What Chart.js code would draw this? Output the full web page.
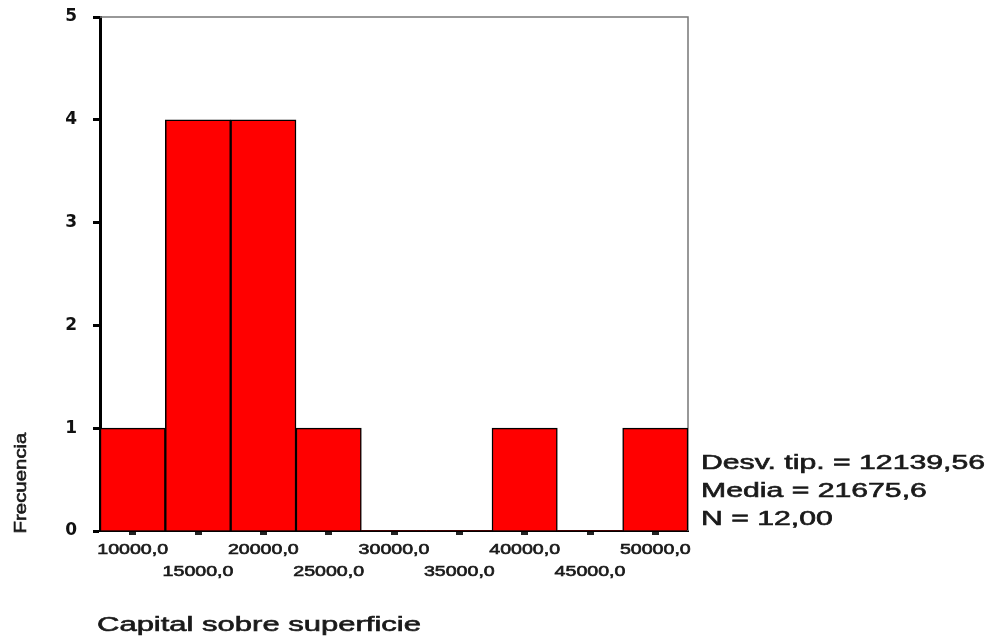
<!DOCTYPE html>
<html>
<head>
<meta charset="utf-8">
<script src="https://cdn.jsdelivr.net/npm/chart.js@4"></script>
<style>
  body { margin: 0; background: #fff; }
  #wrap { width: 991px; height: 639px; }
</style>
</head>
<body>
<div id="wrap"><canvas id="histo" width="991" height="639"></canvas></div>
<script>
// bins of the histogram (centres) and their counts
const binLabels = ['10000,0', '15000,0', '20000,0', '25000,0', '30000,0', '35000,0', '40000,0', '45000,0', '50000,0'];
const counts = [1, 4, 4, 1, 0, 0, 1, 0, 1];
const yTicks = [0, 1, 2, 3, 4, 5];
const statLines = ['Desv. tip. = 12139,56', 'Media = 21675,6', 'N = 12,00'];
const xTitle = 'Capital sobre superficie';
const yTitle = 'Frecuencia';

// SPSS output looks horizontally stretched, so text gets drawn with a scale
// a thin stroke gives the slightly heavy look of the original
function stretchText(ctx, text, x, y, font, sx, align) {
  ctx.save();
  ctx.font = font;
  ctx.fillStyle = '#1a1a1a';
  ctx.strokeStyle = '#1a1a1a';
  ctx.lineWidth = 0.6;
  ctx.textBaseline = 'middle';
  ctx.translate(x, y);
  ctx.scale(sx, 1);
  const w = ctx.measureText(text).width;
  let dx = 0;
  if (align === 'center') dx = -w / 2;
  if (align === 'right') dx = -w;
  ctx.textAlign = 'left';
  ctx.fillText(text, dx, 0);
  ctx.strokeText(text, dx, 0);
  ctx.restore();
}

const extras = {
  id: 'extras',
  beforeDatasetsDraw(chart) {
    const { ctx, chartArea: a } = chart;
    // grey frame on top and right
    ctx.save();
    ctx.strokeStyle = '#777';
    ctx.lineWidth = 1.5;
    ctx.beginPath();
    ctx.moveTo(a.left, a.top);
    ctx.lineTo(a.right, a.top);
    ctx.lineTo(a.right, a.bottom);
    ctx.stroke();
    ctx.restore();
  },
  afterDraw(chart) {
    const { ctx, chartArea: a } = chart;
    const xs = chart.scales.x;
    // x tick labels, two staggered rows
    binLabels.forEach((lab, i) => {
      const px = xs.getPixelForTick(i);
      const py = i % 2 === 0 ? a.bottom + 19 : a.bottom + 41;
      stretchText(ctx, lab, px, py, '14px "Liberation Sans"', 1.4, 'center');
    });
    // axis titles
    stretchText(ctx, xTitle, 97, 625, '20px "Liberation Sans"', 1.55, 'left');
    ctx.save();
    ctx.translate(21, 483);
    ctx.rotate(-Math.PI / 2);
    stretchText(ctx, yTitle, 0, 0, '17px "Liberation Sans"', 1.2, 'center');
    ctx.restore();
    // summary stats
    statLines.forEach((s, i) => {
      stretchText(ctx, s, 701, 463 + i * 28, '20px "Liberation Sans"', 1.51, 'left');
    });
  }
};

new Chart(document.getElementById('histo'), {
  type: 'bar',
  data: {
    labels: binLabels,
    datasets: [{
      data: counts,
      backgroundColor: '#ff0000',
      borderColor: '#000',
      borderWidth: c => (c.raw === 0 ? 0 : 1.5),
      barPercentage: 1,
      categoryPercentage: 1
    }]
  },
  options: {
    responsive: false,
    animation: false,
    layout: { padding: { left: 0, top: 17, right: 303, bottom: 0 } },
    plugins: { legend: { display: false }, tooltip: { enabled: false } },
    scales: {
      x: {
        offset: true,
        grid: { offset: false, drawOnChartArea: false, tickLength: 4, tickWidth: 7, tickColor: '#222' },
        border: { color: '#000', width: 2 },
        ticks: { display: false },
        afterFit(scale) { scale.height = 108; }
      },
      y: {
        min: 0,
        max: 5,
        afterBuildTicks(scale) { scale.ticks = yTicks.map(v => ({ value: v })); },
        grid: { drawOnChartArea: false, tickLength: 7, tickWidth: 3, tickColor: '#000' },
        border: { color: '#000', width: 3 },
        ticks: {
          color: '#111',
          padding: 16,
          font: { family: 'DejaVu Sans', size: 17, weight: 'bold' }
        },
        afterFit(scale) {
          scale.width = 100;
          scale.paddingTop = 0;
          scale.paddingBottom = 0;
        }
      }
    }
  },
  plugins: [extras]
});
</script>
</body>
</html>
